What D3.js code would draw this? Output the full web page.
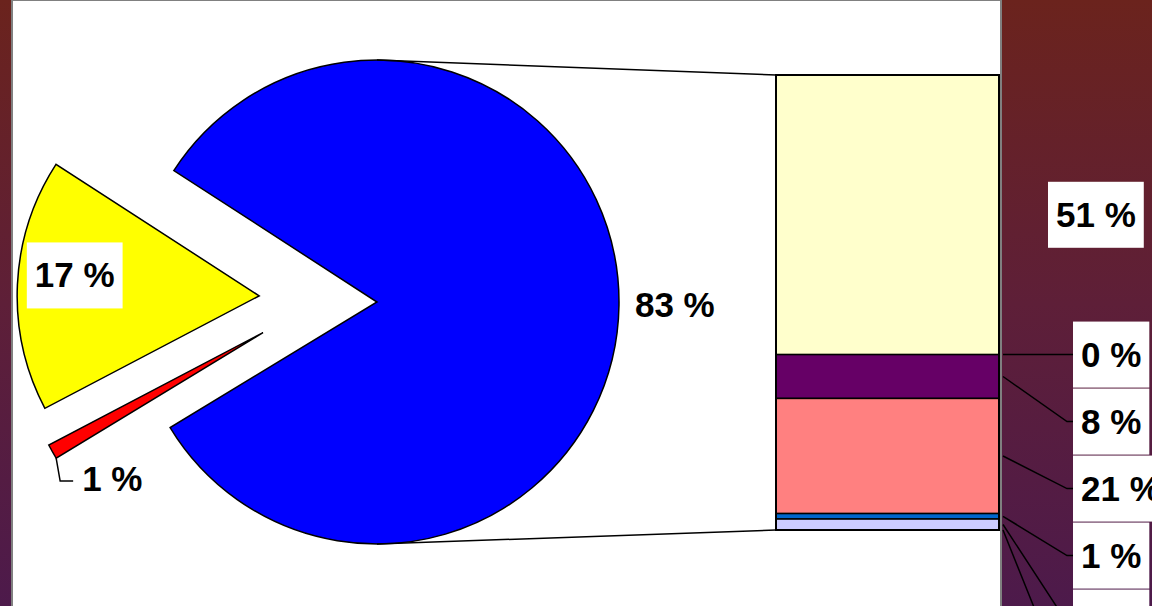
<!DOCTYPE html>
<html>
<head>
<meta charset="utf-8">
<script src="https://cdn.jsdelivr.net/npm/d3@7"></script>
<style>
  html, body { margin: 0; padding: 0; overflow: hidden; background: #5c1f38; }
  svg { display: block; }
  text { font-family: Arial, "Liberation Sans", sans-serif; font-weight: bold; }
</style>
</head>
<body>
<svg id="chart" width="1152" height="606"></svg>
<script>
// Breakdown bar (percent of total), top to bottom
const barCategories = ["B1", "B2", "B3", "B4", "B5", "B6", "B7"];
const barValues = [51, 0, 8, 21, 1, 2, 0];
const barColors = ["#ffffcc", "#ccffff", "#660066", "#ff8080", "#0066cc", "#ccccff", "#000080"];

// Main pie: the combined slice equals the sum of the bar, then the two separate slices
const pieCategories = ["Combined", "P2", "P3"];
const pieValues = [d3.sum(barValues), 1, 17];
const pieColors = ["#0000ff", "#ff0000", "#ffff00"];

const W = 1152, H = 606;
const deg = Math.PI / 180;
const fmt = v => `${v} %`;
const FONT = 35, BOX_H = 66, PAD = 8;

const svg = d3.select("#chart");

// backdrop gradient
const grad = svg.append("defs").append("linearGradient")
  .attr("id", "bg").attr("x1", 0).attr("y1", 0).attr("x2", 0).attr("y2", 1);
grad.append("stop").attr("offset", 0).attr("stop-color", "#6b231d");
grad.append("stop").attr("offset", 0.5).attr("stop-color", "#5e1f38");
grad.append("stop").attr("offset", 1).attr("stop-color", "#4d1a4b");
svg.append("rect").attr("width", W).attr("height", H).attr("fill", "url(#bg)");

// white plot panel
svg.append("rect")
  .attr("x", 12).attr("y", 0).attr("width", 989).attr("height", H + 20)
  .attr("fill", "#fff").attr("stroke", "#808080").attr("stroke-width", 2);

// ---------- pie ----------
const cx = 377, cy = 302, r = 242;
const start = -57.1 * deg;
const pie = d3.pie().sort(null).startAngle(start).endAngle(start + 2 * Math.PI);
const arcs = pie(pieValues);
const arc = d3.arc().innerRadius(0).outerRadius(r);

// explosion of the separated slices: distance and direction (degrees, clockwise from 12 o'clock)
const explode = [null, { dist: 118, dir: 255 }, { dist: 118, dir: 273 }];
const offsets = explode.map(e => e
  ? [e.dist * Math.sin(e.dir * deg), -e.dist * Math.cos(e.dir * deg)]
  : [0, 0]);

const gPie = svg.append("g");
gPie.selectAll("path")
  .data(arcs)
  .join("path")
  .attr("transform", (d, i) => `translate(${cx + offsets[i][0]},${cy + offsets[i][1]})`)
  .attr("d", arc)
  .attr("fill", (d, i) => pieColors[i])
  .attr("stroke", "#000")
  .attr("stroke-width", 1.5)
  .attr("stroke-linejoin", "miter");

function polar(ox, oy, radius, a) {
  return [ox + radius * Math.sin(a), oy - radius * Math.cos(a)];
}

function labelBox(g, xLeft, yCenter, str) {
  const t = g.append("text")
    .attr("font-size", FONT)
    .attr("x", xLeft + PAD)
    .attr("y", yCenter + 12)
    .attr("fill", "#000")
    .text(str);
  const w = t.node().getComputedTextLength() + 2 * PAD;
  g.insert("rect", "text")
    .attr("x", xLeft).attr("y", yCenter - BOX_H / 2)
    .attr("width", w).attr("height", BOX_H)
    .attr("fill", "#fff");
  return w;
}

// combined slice label, outside on the right
{
  const a = arcs[0];
  const mid = (a.startAngle + a.endAngle) / 2;
  const [px, py] = polar(cx, cy, r + 16, mid);
  svg.append("text")
    .attr("font-size", FONT).attr("x", px).attr("y", py + 11)
    .attr("fill", "#000").text(fmt(pieValues[0]));
}

// large separated slice: label inside
{
  const a = arcs[2];
  const mid = (a.startAngle + a.endAngle) / 2;
  const ox = cx + offsets[2][0], oy = cy + offsets[2][1];
  const [px, py] = polar(ox, oy, r * 0.763, mid);
  const g = svg.append("g");
  const t = g.append("text").attr("font-size", FONT).text(fmt(pieValues[2]));
  const tw = t.node().getComputedTextLength();
  t.remove();
  labelBox(g, px - tw / 2 - PAD, py - 12, fmt(pieValues[2]));
}

// small separated slice: label with leader below its outer edge
{
  const a = arcs[1];
  const ox = cx + offsets[1][0], oy = cy + offsets[1][1];
  const [qx, qy] = polar(ox, oy, r, a.startAngle);
  const ex = qx + 4, ey = qy + 23;
  svg.append("path")
    .attr("d", `M${qx},${qy}L${ex},${ey}L${ex + 13},${ey}`)
    .attr("fill", "none").attr("stroke", "#000").attr("stroke-width", 1.5);
  svg.append("text")
    .attr("font-size", FONT).attr("x", ex + 22).attr("y", ey + 10)
    .attr("fill", "#000").text(fmt(pieValues[1]));
}

// ---------- breakdown bar ----------
const total = d3.sum(barValues);
const y = d3.scaleLinear().domain([0, total]).range([75, 530]);
const bx0 = 776, bx1 = 999;

let acc = 0;
const segs = barValues.map((v, i) => {
  const s = { v, i, y0: acc, y1: acc + v };
  acc += v;
  return s;
});

// connector lines from the pie to the bar
svg.append("line")
  .attr("x1", cx).attr("y1", cy - r).attr("x2", bx0).attr("y2", y(0))
  .attr("stroke", "#000").attr("stroke-width", 1.5);
svg.append("line")
  .attr("x1", cx).attr("y1", cy + r).attr("x2", bx0).attr("y2", y(total))
  .attr("stroke", "#000").attr("stroke-width", 1.5);

svg.append("g").selectAll("rect")
  .data(segs.filter(s => s.v > 0))
  .join("rect")
  .attr("x", bx0).attr("width", bx1 - bx0)
  .attr("y", s => y(s.y0))
  .attr("height", s => y(s.y1) - y(s.y0))
  .attr("fill", s => barColors[s.i])
  .attr("stroke", "#000").attr("stroke-width", 1.5);

svg.append("rect")
  .attr("x", bx0).attr("y", y(0)).attr("width", bx1 - bx0).attr("height", y(total) - y(0))
  .attr("fill", "none").attr("stroke", "#000").attr("stroke-width", 2);

// bar labels: stacked boxes on the right; segments much taller than a box keep their label
// level with the segment, the others get pushed down and joined by a leader line
const gLab = svg.append("g");
let prev = -Infinity;
segs.forEach(s => {
  const mid = y((s.y0 + s.y1) / 2);
  const roomy = (y(s.y1) - y(s.y0)) >= 2 * BOX_H;
  const center = Math.max(mid, prev + BOX_H + 1);
  prev = center;
  if (roomy) {
    labelBox(gLab, 1048, center, fmt(s.v));
  } else {
    gLab.append("path")
      .attr("d", `M1003,${mid}L1067,${center}L1073,${center}`)
      .attr("fill", "none").attr("stroke", "#000").attr("stroke-width", 1.5);
    labelBox(gLab, 1073, center, fmt(s.v));
  }
});
</script>
</body>
</html>
